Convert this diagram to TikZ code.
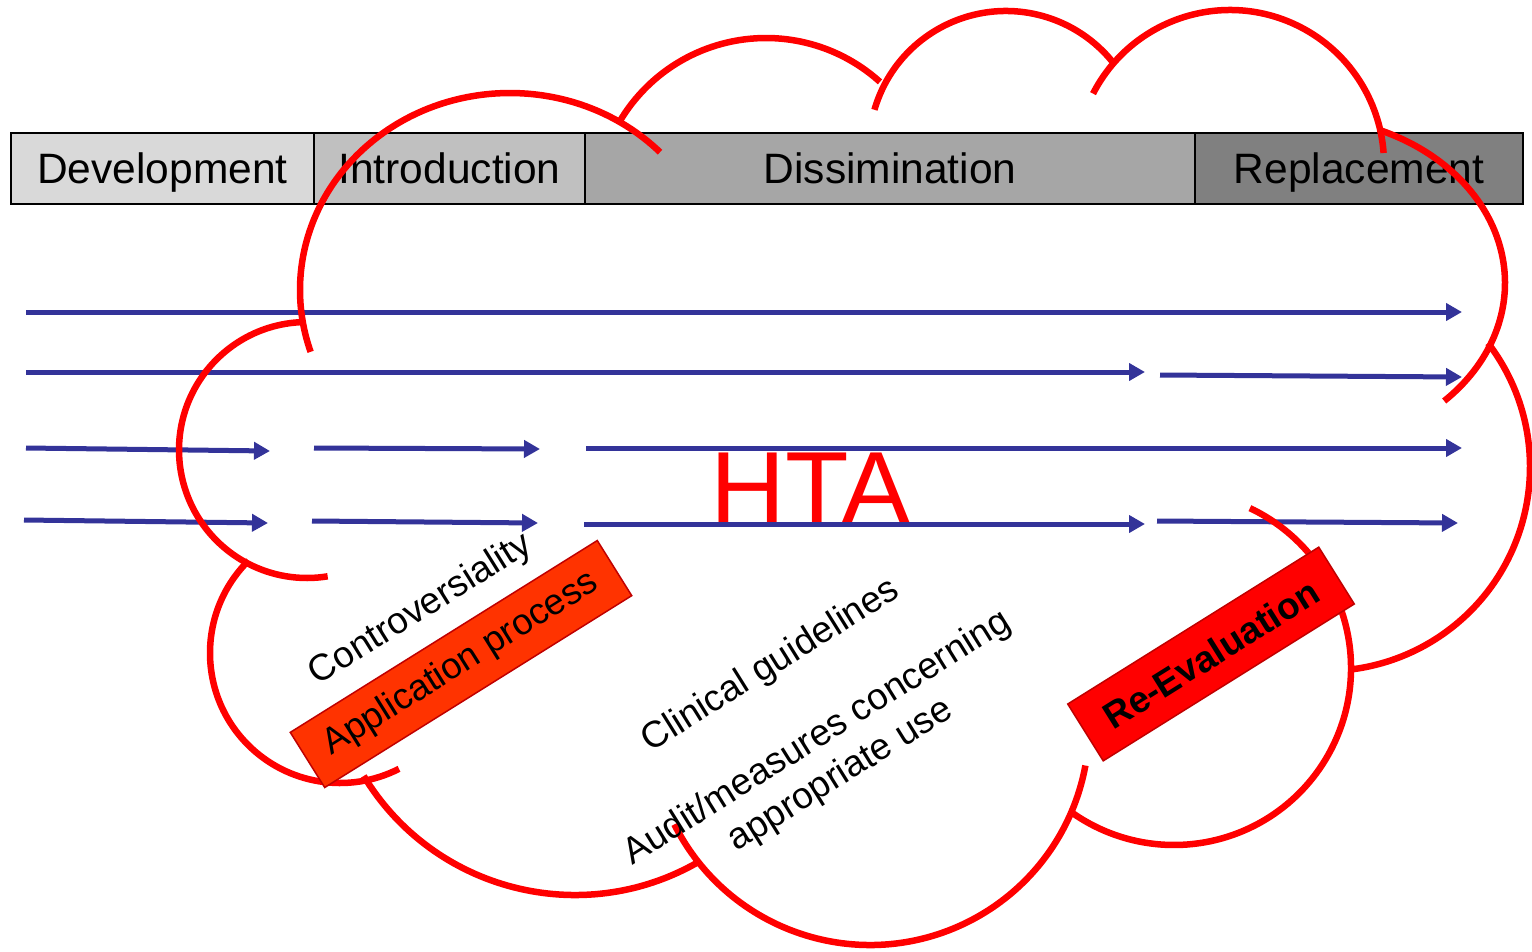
\documentclass[tikz,border=0pt]{standalone}
\usepackage{fontspec}
\setmainfont{Liberation Sans}
\usetikzlibrary{arrows.meta}
\definecolor{arrowblue}{HTML}{333399}
\definecolor{hdrA}{HTML}{D9D9D9}
\definecolor{hdrB}{HTML}{C0C0C0}
\definecolor{hdrC}{HTML}{A6A6A6}
\definecolor{hdrD}{HTML}{808080}
\definecolor{apporange}{HTML}{FF3300}
\definecolor{boxedge}{HTML}{C00000}
\newcommand\cloudarc[6]{%
  \draw[cloudline] ([shift={(#5:#3pt and #4pt)}]#1,#2) arc[start angle=#5, end angle=#6, x radius=#3pt, y radius=#4pt];}
\begin{document}
\begin{tikzpicture}[x=1pt,y=-1pt,
  hdr/.style={draw=black, line width=1.5pt, minimum height=71pt, inner sep=0pt,
              text height=38pt, text depth=9pt, font=\fontsize{42.5}{50}\selectfont},
  flow/.style={draw=arrowblue, line width=5pt, -{Triangle[length=16pt,width=17pt]}},
  cloudline/.style={draw=red, line width=6.5pt},
  lbl/.style={font=\fontsize{37}{44}\selectfont, rotate=32, align=center, inner sep=0pt},
  tagbox/.style={rotate=32, inner sep=0pt, line width=1.5pt, font=\fontsize{36.5}{43}\selectfont}]
\useasboundingbox (0,0) rectangle (1532,951);
% header bar
\node[hdr, fill=hdrA, minimum width=303pt] (dev) at (162.5,168.5) {Development};
\node[hdr, fill=hdrB, minimum width=271pt] (intro) at (449.5,168.5) {Introduction};
\node[hdr, fill=hdrC, minimum width=610pt] (diss) at (890,168.5) {Dissimination};
\node[hdr, fill=hdrD, minimum width=328pt] (repl) at (1359,168.5) {Replacement};
% HTA
\node[text=red, font=\fontsize{104}{112}\selectfont, inner sep=0pt] (hta) at (811,489) {HTA};
% arrows
\coordinate (a1s) at (26,312);   \coordinate (a1e) at (1462,312);
\coordinate (a2s) at (26,372);   \coordinate (a2e) at (1145,372);
\coordinate (b2s) at (1160,375); \coordinate (b2e) at (1462,377);
\coordinate (a3s) at (26,448);   \coordinate (a3e) at (270,451);
\coordinate (b3s) at (314,448);  \coordinate (b3e) at (540,449);
\coordinate (c3s) at (586,448);  \coordinate (c3e) at (1462,448);
\coordinate (a4s) at (24,520);   \coordinate (a4e) at (268,523);
\coordinate (b4s) at (312,521);  \coordinate (b4e) at (538,523);
\coordinate (c4s) at (584,524);  \coordinate (c4e) at (1145,524);
\coordinate (d4s) at (1157,521); \coordinate (d4e) at (1458,523);
\draw[flow] (a1s) -- (a1e);
\draw[flow] (a2s) -- (a2e);
\draw[flow] (b2s) -- (b2e);
\draw[flow] (a3s) -- (a3e);
\draw[flow] (b3s) -- (b3e);
\draw[flow] (c3s) -- (c3e);
\draw[flow] (a4s) -- (a4e);
\draw[flow] (b4s) -- (b4e);
\draw[flow] (c4s) -- (c4e);
\draw[flow] (d4s) -- (d4e);
% cloud
\cloudarc{510}{290}{210}{197}{44.4}{198.3}
\cloudarc{766}{208}{170}{170}{149.7}{47.9}
\cloudarc{1006}{148}{137}{137}{163.8}{38.8}
\cloudarc{1230}{164}{154}{154}{152.8}{4.1}
\cloudarc{1300}{283}{205}{166}{67}{-45.3}
\cloudarc{1326}{467}{204}{204}{37.4}{-82.3}
\cloudarc{1174}{668}{177}{177}{64.6}{-124.7}
\cloudarc{870}{726}{219}{219}{206.7}{349.6}
\cloudarc{575}{648}{247}{247}{211.2}{299.9}
\cloudarc{340}{653}{130}{130}{134.7}{297}
\cloudarc{307}{450}{128}{128}{92.3}{279.3}
% labels
\node[lbl] (contro) at (421,610) {Controversiality};
\node[lbl] (clin) at (771,666) {Clinical guidelines};
\node[lbl] (audit) at (829,757) {Audit/measures concerning\\appropriate use};
\node[tagbox, fill=apporange, draw=boxedge, minimum width=362pt, minimum height=65pt] (app) at (461,664) {Application process};
\node[tagbox, fill=red, draw=boxedge, minimum width=296pt, minimum height=67pt, font=\fontsize{37}{44}\selectfont\bfseries] (reeval) at (1211,654) {Re-Evaluation};
\end{tikzpicture}
\end{document}
